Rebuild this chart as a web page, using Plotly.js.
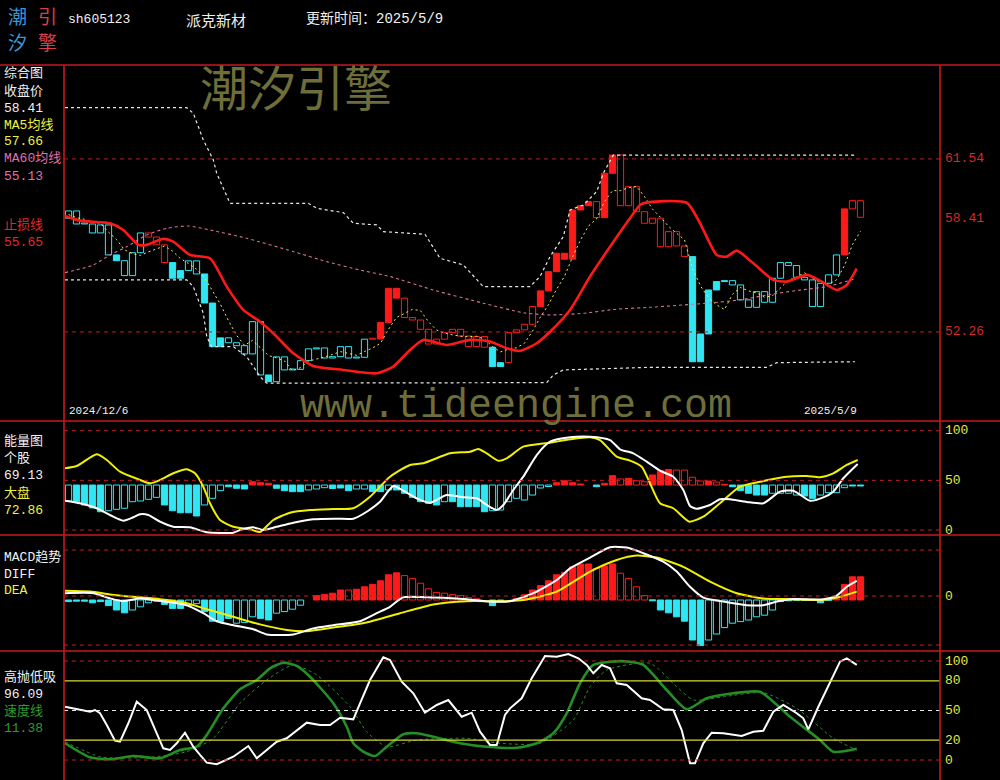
<!DOCTYPE html>
<html><head><meta charset="utf-8">
<script src="https://cdn.plot.ly/plotly-3.0.1.min.js"></script>
<style>html,body{margin:0;padding:0;background:#000;}#chart{width:1000px;height:780px;}</style>
</head><body><div id="chart"></div>
<script>
// ---------------- data ----------------
const stockCode = 'sh605123';
const stockName = '派克新材';
const updateDate = '2025/5/9';
const firstDate = '2024/12/6';
const lastDate = '2025/5/9';

const prevClose = 58.36;
const closes = [58.75,58.05,58.05,57.57,58.00,56.39,56.08,55.28,56.51,57.57,
57.35,56.93,55.98,55.14,55.55,56.07,55.37,53.81,51.47,51.94,
51.68,51.52,51.08,52.81,49.95,49.59,50.92,50.22,50.25,50.72,
51.35,51.40,50.86,50.93,51.47,50.86,50.90,51.87,51.88,52.76,
54.60,54.07,53.03,52.90,52.40,51.61,51.87,52.22,52.40,52.04,
51.47,52.01,51.44,50.40,50.61,52.22,52.37,52.67,53.62,54.46,
55.49,56.48,56.16,58.80,59.03,59.25,58.39,60.77,61.75,59.03,
60.05,58.71,58.09,58.36,56.83,57.64,56.87,56.30,50.66,52.15,
54.51,54.96,55.01,54.78,53.98,53.58,54.42,53.85,55.14,55.98,
55.82,55.19,55.05,53.62,54.87,55.32,56.39,58.86,59.30,58.41];
// trend state: 1 = 多 (red), -1 = 空 (cyan)
const trend = [-1,-1,-1,-1,-1,-1,-1,-1,-1,-1,
1,1,1,-1,-1,-1,-1,-1,-1,-1,
-1,-1,-1,-1,-1,-1,-1,-1,-1,-1,
-1,-1,-1,-1,-1,-1,-1,-1,1,1,
1,1,1,1,1,1,1,1,1,1,
1,1,1,-1,-1,1,1,1,1,1,
1,1,1,1,1,1,1,1,1,1,
1,1,1,1,1,1,1,1,-1,-1,
-1,-1,-1,-1,-1,-1,-1,-1,-1,-1,
-1,-1,-1,-1,-1,-1,-1,1,1,1];
// heavy day flag (solid box = 1, hollow = 0)
const heavy = [0,0,0,0,0,0,1,0,0,0,
0,0,0,1,1,0,0,1,1,1,
0,0,0,0,0,1,0,0,0,0,
0,0,0,0,0,0,0,0,0,1,
1,1,0,0,0,0,0,0,0,0,
0,0,0,1,1,0,0,0,0,1,
1,1,1,1,1,1,0,1,1,0,
0,0,0,0,0,0,0,0,1,1,
1,1,1,0,0,0,0,0,0,0,
0,0,0,0,0,0,0,1,0,0];

const ma60X = [-0.44,3.1,5.19,7.28,9.78,12.28,14.98,17.69,22.28,28.1,32.28,36.44,40.19,45.6,51.85,56.85,60.19,64.35,68.53,72.69,79.78,83.94,88.1,92.28,94.78,98.5];
const ma60Y = [55.44,55.85,56.39,56.83,57.46,57.82,57.94,57.73,57.28,56.57,56.03,55.58,55.23,54.51,53.80,53.29,53.17,53.26,53.48,53.58,53.80,53.98,54.30,54.55,54.69,55.13];
const stopX = [-0.44,1.44,5.19,6.85,8.73,9.78,11.85,13.1,15.19,17.69,19.78,21.85,23.94,25.6,28.1,30.6,34.35,38.53,40.6,42.69,44.35,47.28,50.19,52.69,54.78,56.44,58.53,60.19,62.69,65.19,67.69,70.19,71.65,77.28,78.94,81.03,82.28,83.53,85.6,88.1,89.78,92.28,93.94,96.03,97.28,98.53];
const stopY = [58.48,58.23,58.09,57.73,56.93,56.93,57.25,57.10,56.39,56.21,54.69,53.44,52.81,52.19,51.11,50.43,50.22,50.04,50.40,51.29,51.83,51.56,51.83,51.74,51.38,51.24,51.65,52.27,53.44,55.23,56.83,58.36,59.13,59.19,58.09,56.39,56.30,56.62,55.94,55.05,54.96,55.32,55.01,54.51,54.78,55.65];
const upBandX = [-0.44,14.78,15.6,16.85,18.1,18.53,20.19,29.98,31.03,34.35,35.6,38.53,39.35,44.56,46.44,47.69,49.35,51.85,57.69,58.94,60.19,61.85,62.69,64.35,66.03,66.85,68.1,98.53];
const upBandY = [64.29,64.29,63.99,62.56,61.49,60.77,59.16,59.16,58.89,58.66,58.09,58.0,57.64,57.5,56.21,56.07,55.85,54.69,54.69,55.23,56.30,57.37,58.80,59.07,59.79,60.77,61.75,61.75];
const lowBandX = [-0.44,14.78,15.6,16.85,17.28,17.9,20.6,22.28,23.94,24.78,59.78,60.6,61.85,72.69,87.28,88.53,98.31];
const lowBandY = [55.05,55.05,54.69,53.26,52.01,51.47,51.47,50.93,49.86,49.51,49.54,49.95,50.22,50.36,50.36,50.61,50.66];
const priceTicks = [61.54, 52.26];

// 能量图
const energyBase = 45.3;
const energyBar = [29.2,28.5,25.2,22.2,18.4,19.4,20.8,21.9,28.5,29.2,
30.9,32.9,25.2,19.4,17.4,17.4,14.1,25.2,31.9,39.6,
43.6,42.0,41.3,48.6,47.6,47.0,42.0,39.6,38.6,38.6,
40.3,41.3,42.6,41.8,42.3,39.6,41.3,41.3,38.6,38.6,
40.3,40.3,37.0,32.9,28.5,26.9,25.2,28.5,28.5,23.5,
23.5,23.5,18.4,19.4,20.1,28.5,31.9,30.2,35.2,42.3,
43.8,47.6,49.6,47.6,46.3,45.3,43.6,47.0,54.7,51.4,
52.1,49.6,48.6,55.4,59.7,60.9,60.4,60.4,53.1,49.3,
49.3,48.3,46.0,43.6,39.6,37.0,35.2,35.2,37.0,37.0,
37.0,35.2,34.2,31.9,35.2,37.6,37.6,42.6,44.3,44.3];
const energySolid = [0,1,1,1,1,0,0,0,0,0,
0,0,1,1,1,1,1,0,0,0,
1,1,1,1,1,1,1,1,1,1,
0,0,0,1,1,1,0,0,1,1,
0,1,1,1,1,1,1,0,1,1,
1,1,1,0,0,0,0,0,0,0,
0,1,1,1,1,1,1,1,1,0,
1,0,0,1,1,1,0,0,0,0,
1,0,1,1,1,1,1,1,0,0,
0,0,1,1,0,0,0,0,1,1];
const marketX = [-0.44,1.03,3.53,4.78,6.44,8.94,10.19,11.44,13.1,14.78,15.81,16.85,17.69,18.94,20.6,22.69,23.94,25.6,27.69,30.19,33.1,35.6,37.69,40.19,42.69,44.35,47.69,50.19,51.23,52.28,53.73,54.78,56.85,60.19,62.69,65.19,66.44,68.53,70.19,71.65,72.69,73.94,75.6,77.6,79.35,81.44,83.94,86.44,89.78,92.28,93.94,95.6,97.28,98.65];
const marketY = [62.1,64.4,76.2,70.5,58.7,50.4,47.0,50.4,57.1,61.1,57.1,43.6,26.9,10.1,3.3,0.7,-2.0,10.1,17.4,20.1,21.1,21.9,33.5,53.7,65.5,67.2,77.2,78.8,81.6,77.2,69.8,72.2,83.9,87.9,91.3,93.4,90.6,73.8,69.8,63.7,47.0,26.9,21.9,8.4,13.4,26.9,43.6,48.6,53.7,54.4,53.1,57.1,65.5,70.5];
const stockX = [-0.44,1.44,3.53,5.19,6.85,8.1,8.94,9.98,11.44,13.1,15.19,17.28,20.6,21.44,23.1,24.35,26.03,28.1,30.6,33.53,35.6,37.28,38.94,40.6,41.85,43.53,45.19,47.28,49.35,51.03,52.28,53.53,54.35,55.6,56.85,58.53,60.19,62.69,65.19,67.69,68.94,70.6,72.28,73.94,75.6,76.85,77.69,78.53,80.19,81.44,82.69,84.78,86.85,88.94,90.6,92.69,94.35,95.6,96.85,98.65];
const stockY = [29.5,26.9,21.9,15.1,9.4,12.8,15.8,15.1,8.4,3.3,2.7,-2.3,-2.7,0,2.7,0,3.3,7.4,10.8,11.4,11.4,18.4,28.5,44.3,39.6,31.9,27.5,35.2,32.9,31.9,25.2,20.1,25.2,40.3,53.7,75.5,88.9,93.4,94.0,90.6,81.3,77.2,68.8,59.7,53.7,40.3,24.2,21.4,25.2,30.9,30.9,28.2,26.9,38.6,39.6,29.5,32.9,38.6,52.1,66.5];
const energyTicks = [100, 50, 0];

// MACD趋势
const macdBase = -0.1;
const macdBar = [-0.14,-0.13,-0.13,-0.17,-0.14,-0.24,-0.35,-0.42,-0.35,-0.27,
-0.17,-0.13,-0.21,-0.31,-0.31,-0.24,-0.19,-0.39,-0.63,-0.63,
-0.56,-0.68,-0.66,-0.52,-0.56,-0.60,-0.43,-0.39,-0.33,-0.23,
-0.10,0.01,0.04,0.07,0.15,0.15,0.17,0.23,0.29,0.38,
0.53,0.58,0.51,0.44,0.32,0.18,0.09,0.07,0.04,0.01,
-0.04,-0.07,-0.10,-0.24,-0.14,-0.10,-0.06,0.03,0.15,0.26,
0.38,0.53,0.59,0.73,0.80,0.80,0.69,0.75,0.80,0.57,
0.44,0.23,0.01,-0.12,-0.35,-0.42,-0.52,-0.63,-1.10,-1.24,
-1.10,-0.95,-0.79,-0.68,-0.64,-0.60,-0.52,-0.48,-0.35,-0.14,
-0.12,-0.11,-0.11,-0.11,-0.17,-0.11,-0.06,0.29,0.48,0.48];
const macdSolid = [1,1,1,1,1,1,1,1,0,0,
0,0,1,1,1,0,0,1,1,1,
1,0,0,0,1,1,0,0,0,0,
0,1,1,1,1,0,1,1,1,1,
1,1,0,0,0,0,0,0,0,0,
0,1,1,1,1,1,1,1,1,1,
1,1,1,1,1,1,0,1,1,0,
0,0,0,1,1,1,1,1,1,1,
0,0,0,0,0,0,0,0,0,1,
1,1,1,1,1,1,1,1,1,1];
const diffX = [-0.44,3.1,5.19,6.85,8.94,11.44,14.78,16.85,18.53,20.6,23.1,24.78,28.1,30.6,33.1,36.44,38.53,40.19,41.85,45.6,49.78,52.69,55.19,58.1,61.03,62.69,65.19,67.69,69.78,71.85,74.35,76.03,77.69,79.35,81.85,84.78,86.85,88.53,90.19,94.35,96.03,97.28,98.53];
const diffY = [0.07,0.07,-0.06,-0.13,-0.06,-0.12,-0.23,-0.43,-0.63,-0.73,-0.83,-0.96,-0.96,-0.81,-0.73,-0.63,-0.43,-0.27,-0.03,-0.04,-0.08,-0.14,-0.13,0.07,0.40,0.69,0.96,1.22,1.21,1.07,0.86,0.61,0.23,-0.04,-0.14,-0.23,-0.23,-0.14,-0.08,-0.08,0.01,0.23,0.38];
const deaX = [-0.44,2.69,5.19,8.1,11.44,14.78,17.28,20.6,23.94,27.28,29.78,33.1,37.28,41.44,45.6,49.78,53.94,56.85,61.03,65.19,68.53,71.03,73.53,76.85,80.19,83.53,86.85,90.19,94.35,96.44,98.53];
const deaY = [0.13,0.11,0.04,-0.02,-0.08,-0.18,-0.33,-0.52,-0.71,-0.85,-0.88,-0.79,-0.66,-0.43,-0.21,-0.13,-0.13,-0.10,0.11,0.61,0.90,1.01,0.96,0.73,0.36,0.07,-0.06,-0.08,-0.10,-0.02,0.11];
const macdGrid = [1.15, 0, -1.225];

// 高抛低吸
const kX = [-0.44,1.44,2.69,3.31,3.94,4.78,5.81,6.44,7.48,8.53,9.78,11.03,11.85,12.69,13.53,14.56,15.6,16.44,17.28,18.53,20.6,22.48,23.53,24.78,26.03,27.28,29.78,31.44,32.69,33.94,35.6,36.44,37.69,39.35,40.19,41.65,43.1,44.56,46.03,47.48,49.15,50.4,51.44,52.69,53.53,54.56,55.19,56.65,57.9,59.56,61.03,62.48,63.73,64.78,65.6,66.65,67.69,68.53,69.78,71.65,72.69,74.35,75.6,76.65,77.69,78.31,79.35,80.4,81.85,84.15,85.6,86.85,88.1,89.35,91.03,91.85,92.48,93.73,95.19,96.44,97.28,98.53];
const kY = [53.8,50.5,48.8,50.5,47.2,35.4,19.5,18.5,37.1,58.9,50.5,27.0,11.8,10.1,16.9,27.6,13.4,5.1,-2.7,-4.3,3.3,14.1,1.7,10.1,18.5,21.9,37.7,35.4,35.4,42.7,41.1,57.3,80.8,103.7,101.0,79.1,67.4,47.8,55.6,60.6,43.7,47.8,28.6,15.2,15.2,45.5,52.2,62.3,82.5,105.1,104.3,107.1,102.7,96.0,87.6,96.0,92.6,77.5,75.8,62.3,60.6,51.2,50.5,30.3,-3.3,-3.3,16.9,27.6,27.0,24.2,28.6,29.6,48.8,55.6,47.2,42.1,31.0,53.8,79.1,99.3,102.7,96.09];
const speedX = [-0.44,2.69,5.19,8.1,11.44,13.94,16.03,17.28,19.35,21.44,23.53,25.19,26.85,28.53,30.19,33.1,34.78,35.6,36.85,38.31,39.78,41.85,43.53,45.6,48.94,52.28,56.03,58.53,60.6,62.28,63.94,65.6,67.69,70.19,71.85,74.78,77.28,79.78,83.1,86.44,90.19,93.94,95.6,98.53];
const speedY = [16.9,2.7,0.7,4.0,1.7,10.1,13.4,25.3,52.2,71.4,80.8,92.6,98.3,95.0,84.1,57.3,33.6,16.9,8.4,4.0,13.4,26.0,27.0,23.5,16.9,13.4,12.4,16.9,27.0,47.2,77.5,96.0,99.3,99.3,96.0,70.7,51.2,62.3,67.4,69.0,43.7,20.2,8.4,11.38];
const speedSigX = [-0.44,3.94,10.19,14.78,18.1,21.44,24.78,28.1,31.03,35.19,37.28,39.78,43.53,49.78,53.94,58.94,63.1,65.19,67.28,72.69,76.03,78.1,81.85,86.85,91.03,95.6,98.53];
const speedSigY = [18.5,3.3,2.7,8.4,21.9,57.3,80.8,96.0,85.9,53.8,28.6,13.4,20.2,21.9,16.9,16.9,40.4,74.0,90.9,97.7,74.0,60.6,63.9,68.0,52.2,21.9,10.1];
const kdjTicks = [100, 80, 50, 20, 0];

// ---------------- drawing ----------------
const RED='#ff1a1a', CYAN='#2fe6f2', FRAME='#c41a1e', GRIDRED='#c41a1e';
const W=1000,H=780,ML=64,MR=60,MT=65;
const PW=W-ML-MR, PH=H-MT;
const PX = x => (x-ML)/PW;
const PY = y => (H-y)/PH;
const XR = [-0.5625, 108.9375];

const idx = closes.map((_,i)=>i);
const prev = closes.map((c,i)=> i===0 ? prevClose : closes[i-1]);
const last = closes.length-1;

// MA5 from closes
const allC = [prevClose].concat(closes);
const ma5 = closes.map((_,i)=>{const s=allC.slice(Math.max(0,i-3),i+2);return s.reduce((a,b)=>a+b,0)/s.length;});

const traces=[];
function boxes(sel, color, solid, xa, ya, baseFn, topFn){
  const xs=[],bs=[],hs=[];
  idx.forEach(i=>{ if(sel(i)){ const b=baseFn(i), t=topFn(i); const lo=Math.min(b,t), hi=Math.max(b,t);
    xs.push(i); bs.push(lo); hs.push(Math.max(hi-lo, (ya==='y'?0.05:(ya==='y3'?0.025:0.6)))); }});
  traces.push({type:'bar',x:xs,y:hs,base:bs,width:0.78,xaxis:xa,yaxis:ya,
    marker:{color: solid?color:'#000', line:{color:color,width:1}},hoverinfo:'skip'});
}
// candles (box from previous close to close)
[[1,1,RED],[1,0,RED],[-1,1,CYAN],[-1,0,CYAN]].forEach(([tr,hv,col])=>{
  boxes(i=>trend[i]===tr && heavy[i]===hv, col, hv===1, 'x','y', i=>prev[i], i=>closes[i]);
});
function line(x,y,xa,ya,color,width,dash,shape){
  traces.push({type:'scatter',mode:'lines',x:x,y:y,xaxis:xa,yaxis:ya,hoverinfo:'skip',
    line:{color:color,width:width,dash:dash||'solid',shape:shape||'linear',smoothing:0.6}});
}
line(upBandX,upBandY,'x','y','#e8e8e8',1.2,'3px,3px');
line(lowBandX,lowBandY,'x','y','#e8e8e8',1.2,'3px,3px');
line(ma60X,ma60Y,'x','y','#d8709f',1.1,'3px,3px','spline');
line(idx,ma5,'x','y','#f0f050',1,'2px,3px');
line(stopX,stopY,'x','y','#ff1818',2.6,'solid','spline');

// energy
[[1,RED],[0,RED]].forEach(([s,c])=>boxes(i=>energyBar[i]>energyBase && energySolid[i]===s,c,s===1,'x2','y2',()=>energyBase,i=>energyBar[i]));
[[1,CYAN],[0,CYAN]].forEach(([s,c])=>boxes(i=>energyBar[i]<energyBase && energySolid[i]===s,c,s===1,'x2','y2',()=>energyBase,i=>energyBar[i]));
line(marketX,marketY,'x2','y2','#f0f000',2,'solid','spline');
line(stockX,stockY,'x2','y2','#ffffff',2,'solid','spline');

// macd
[[1,RED],[0,RED]].forEach(([s,c])=>boxes(i=>macdBar[i]>macdBase && macdSolid[i]===s,c,s===1,'x3','y3',()=>macdBase,i=>macdBar[i]));
[[1,CYAN],[0,CYAN]].forEach(([s,c])=>boxes(i=>macdBar[i]<macdBase && macdSolid[i]===s,c,s===1,'x3','y3',()=>macdBase,i=>macdBar[i]));
line(deaX,deaY,'x3','y3','#f0f000',2,'solid','spline');
line(diffX,diffY,'x3','y3','#ffffff',2,'solid','spline');

// kdj
line(speedSigX,speedSigY,'x4','y4','#2e8b2e',1,'3px,3px','spline');
line(speedX,speedY,'x4','y4','#248f24',2.6,'solid','spline');
line(kX,kY,'x4','y4','#ffffff',2,'solid');

// shapes
const shapes=[];
function hgrid(yref,v,color,dash,w){shapes.push({type:'line',xref:'paper',x0:0,x1:1,yref:yref,y0:v,y1:v,line:{color:color,width:w||1,dash:dash}});}
priceTicks.forEach(v=>hgrid('y',v,GRIDRED,'4px,4px'));
energyTicks.forEach(v=>hgrid('y2',v,GRIDRED,'4px,4px'));
macdGrid.forEach(v=>hgrid('y3',v,GRIDRED,'4px,4px'));
hgrid('y4',100,GRIDRED,'4px,4px'); hgrid('y4',0,GRIDRED,'4px,4px');
hgrid('y4',80,'#d8d830','solid',1.2); hgrid('y4',20,'#d8d830','solid',1.2);
hgrid('y4',50,'#e8e8e8','4px,4px');
[65,421,535,651].forEach(y=>shapes.push({type:'line',xref:'paper',yref:'paper',x0:PX(0),x1:PX(1000),y0:PY(y),y1:PY(y),line:{color:FRAME,width:1.6}}));
[64,940].forEach(x=>shapes.push({type:'line',xref:'paper',yref:'paper',x0:PX(x),x1:PX(x),y0:PY(65),y1:PY(780),line:{color:FRAME,width:1.6}}));

// annotations
const MONO='Liberation Mono, Noto Sans CJK SC, monospace';
const anns=[];
function txt(text,x,y,color,size,extra){anns.push(Object.assign({text:text,xref:'paper',yref:'paper',x:PX(x),y:PY(y),xanchor:'left',yanchor:'middle',showarrow:false,font:{family:MONO,size:size||13,color:color}},extra||{}));}
// header logo
const CJK='Noto Sans CJK SC';
txt('潮',6,16,'',19,{font:{family:CJK,size:19,color:'#3d95d6'}});
txt('引',36,16,'',19,{font:{family:CJK,size:19,color:'#d8404c'}});
txt('汐',6,42,'',19,{font:{family:CJK,size:19,color:'#3d95d6'}});
txt('擎',36,42,'',19,{font:{family:CJK,size:19,color:'#d8404c'}});
txt(stockCode,66,19,'#f0f0f0',13);
txt(stockName,184,19,'',15,{font:{family:CJK,size:15,color:'#f0f0f0'}});
txt('更新时间：'+updateDate,304,19,'#f0f0f0',14);
// watermarks
txt('潮汐引擎',198,85,'',48,{font:{family:CJK,size:48,color:'#6e6e3a'}});
txt('www.tideengine.com',298,407,'',40,{font:{family:'Liberation Mono, monospace',size:40,color:'#6e6e3a'}});
// left labels main
txt('综合图',2,73,'#f0f0f0');
txt('收盘价',2,91,'#f0f0f0');
txt(closes[last].toFixed(2),2,108,'#f0f0f0');
txt('MA5均线',2,125,'#f0f040');
txt(ma5[last].toFixed(2),2,142,'#f0f040');
txt('MA60均线',2,159,'#e070a8');
txt(ma60Y[ma60Y.length-1].toFixed(2),2,176,'#e070a8');
txt('止损线',2,226,'#e02828');
txt(stopY[stopY.length-1].toFixed(2),2,243,'#e02828');
// energy
txt('能量图',2,441,'#f0f0f0');
txt('个股',2,458,'#f0f0f0');
txt('69.13',2,475,'#f0f0f0');
txt('大盘',2,493,'#f0f040');
txt('72.86',2,510,'#f0f040');
// macd
txt('MACD趋势',2,557,'#f0f0f0');
txt('DIFF',2,574,'#f0f0f0');
txt('DEA',2,590,'#f0f040');
// kdj
txt('高抛低吸',2,677,'#f0f0f0');
txt(kY[kY.length-1].toFixed(2),2,694,'#f0f0f0');
txt('速度线',2,711,'#2e9a2e');
txt(speedY[speedY.length-1].toFixed(2),2,728,'#2e9a2e');
// dates
txt(firstDate,67,411,'#f0f0f0',11);
txt(lastDate,802,411,'#f0f0f0',11);
// right axis labels
function rlab(text,yref,v,color){anns.push({text:text,xref:'paper',x:PX(943),yref:yref,y:v,xanchor:'left',yanchor:'middle',showarrow:false,font:{family:MONO,size:13,color:color}});}
priceTicks.forEach(v=>rlab(v.toFixed(2),'y',v,'#d42a2a'));
rlab(closes[last].toFixed(2),'y',closes[last]-0.08,'#d42a2a');
energyTicks.forEach(v=>rlab(String(v),'y2',v,'#e6e640'));
rlab('0','y3',0,'#e6e640');
kdjTicks.forEach(v=>rlab(String(v),'y4',v,'#e6e640'));

function ax(dom,anchor){return {domain:dom,anchor:anchor,visible:false,fixedrange:true};}
const layout={
  width:W,height:H,paper_bgcolor:'#000',plot_bgcolor:'#000',
  margin:{l:ML,r:MR,t:MT,b:0,pad:0},showlegend:false,barmode:'overlay',hovermode:false,
  xaxis:Object.assign(ax([0,1],'y'),{range:XR}),
  xaxis2:Object.assign(ax([0,1],'y2'),{range:XR}),
  xaxis3:Object.assign(ax([0,1],'y3'),{range:XR}),
  xaxis4:Object.assign(ax([0,1],'y4'),{range:XR}),
  yaxis:Object.assign(ax([PY(421),1],'x'),{range:[47.48,66.58]}),
  yaxis2:Object.assign(ax([PY(535),PY(421)],'x2'),{range:[-5.04,109.77]}),
  yaxis3:Object.assign(ax([PY(651),PY(535)],'x3'),{range:[-1.375,1.525]}),
  yaxis4:Object.assign(ax([0,PY(651)],'x4'),{range:[-20.2,110.1]}),
  shapes:shapes,annotations:anns
};
Plotly.newPlot('chart',traces,layout,{staticPlot:true,displayModeBar:false});
</script></body></html>
